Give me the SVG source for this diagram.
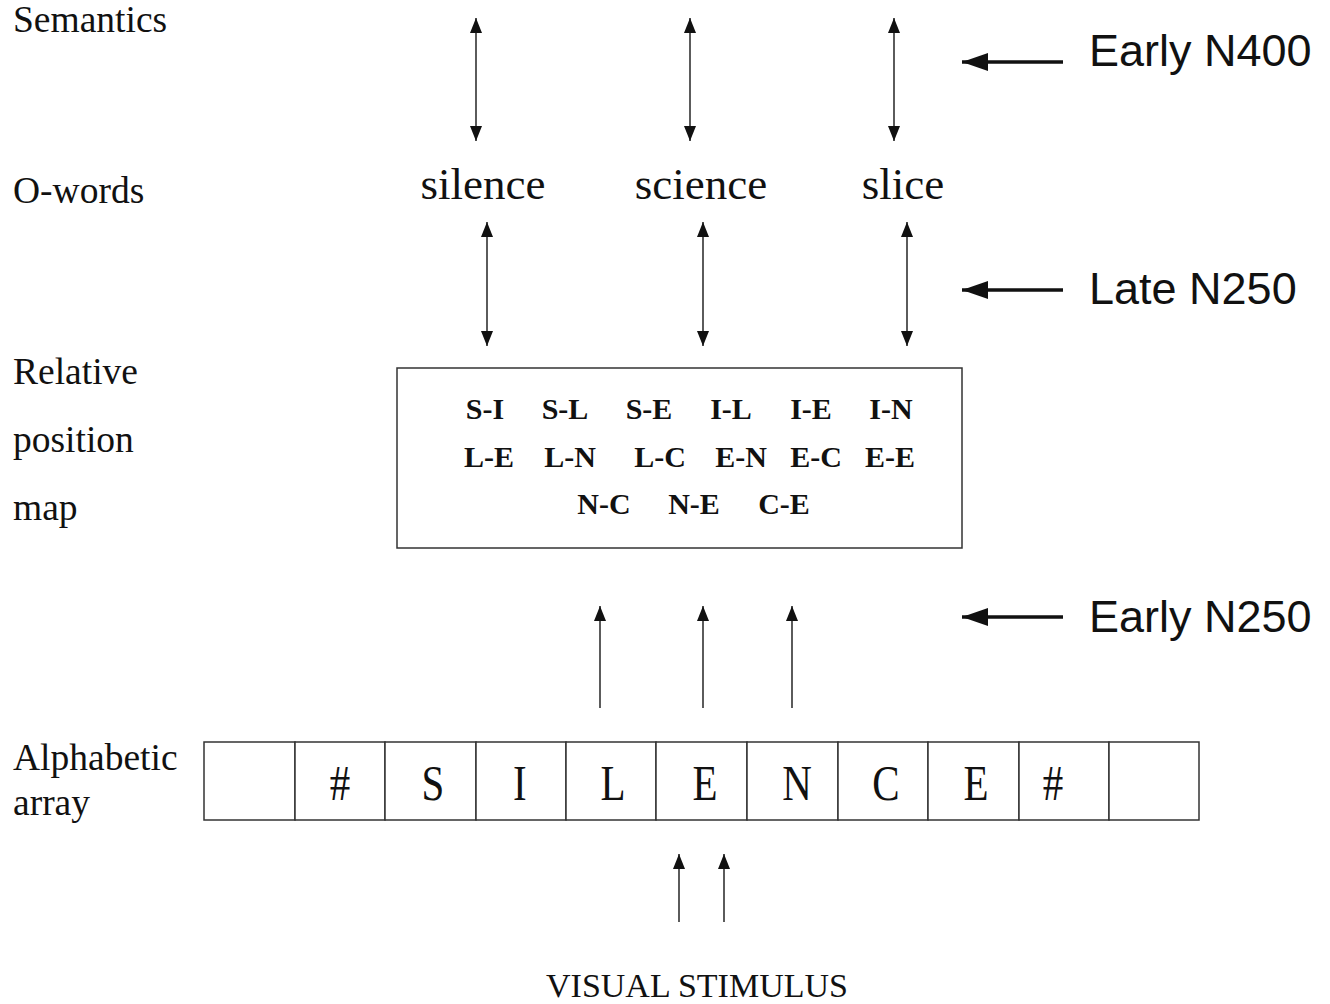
<svg xmlns="http://www.w3.org/2000/svg" width="1330" height="1004" viewBox="0 0 1330 1004">
<defs>
<marker id="ah" viewBox="0 0 10 10" refX="10" refY="5" markerWidth="15" markerHeight="12" markerUnits="userSpaceOnUse" orient="auto-start-reverse" preserveAspectRatio="none">
<path d="M0,0 L10,5 L0,10 Z" fill="#111"/>
</marker>
<marker id="ahb" viewBox="0 0 10 10" refX="10" refY="5" markerWidth="26" markerHeight="18" markerUnits="userSpaceOnUse" orient="auto" preserveAspectRatio="none">
<path d="M0,0 L10,5 L0,10 Z" fill="#111"/>
</marker>
<style>
.lbl{font-family:"Liberation Serif","Times New Roman",serif;font-size:37.5px;fill:#111}
.word{font-family:"Liberation Serif","Times New Roman",serif;font-size:45px;fill:#111;text-anchor:middle}
.pair{font-family:"Liberation Serif","Times New Roman",serif;font-size:30px;font-weight:bold;fill:#111;text-anchor:middle}
.cell{fill:#fff;stroke:#333;stroke-width:1.5}
.let{font-family:"Liberation Serif","Times New Roman",serif;font-size:50px;fill:#111;text-anchor:middle}
.erp{font-family:"Liberation Sans",Arial,sans-serif;font-size:45px;fill:#111}
.conn{stroke:#333;stroke-width:1.6;fill:none}
.big{stroke:#111;stroke-width:3.5;fill:none}
</style>
</defs>
<rect width="1330" height="1004" fill="#fff"/>

<g id="labels">
<text class="lbl" x="13" y="32">Semantics</text>
<text class="lbl" x="13" y="203">O-words</text>
<text class="lbl" x="13" y="384">Relative</text>
<text class="lbl" x="13" y="452">position</text>
<text class="lbl" x="13" y="520">map</text>
<text class="lbl" x="13" y="770">Alphabetic</text>
<text class="lbl" x="13" y="815">array</text>
</g>

<g id="o-words">
<text class="word" x="483" y="199">silence</text>
<text class="word" x="701" y="199">science</text>
<text class="word" x="903" y="199">slice</text>
</g>

<g id="relative-position-map">
<rect x="397" y="368" width="565" height="180" fill="#fff" stroke="#333" stroke-width="1.5"/>
<text class="pair" x="485" y="419">S-I</text>
<text class="pair" x="565" y="419">S-L</text>
<text class="pair" x="649" y="419">S-E</text>
<text class="pair" x="731" y="419">I-L</text>
<text class="pair" x="811" y="419">I-E</text>
<text class="pair" x="891" y="419">I-N</text>
<text class="pair" x="489" y="467">L-E</text>
<text class="pair" x="570" y="467">L-N</text>
<text class="pair" x="660" y="467">L-C</text>
<text class="pair" x="741" y="467">E-N</text>
<text class="pair" x="816" y="467">E-C</text>
<text class="pair" x="890" y="467">E-E</text>
<text class="pair" x="604" y="514">N-C</text>
<text class="pair" x="694" y="514">N-E</text>
<text class="pair" x="784" y="514">C-E</text>
</g>

<g id="alphabetic-array">
<rect class="cell" x="204" y="742" width="91" height="78"/>
<rect class="cell" x="295" y="742" width="90" height="78"/>
<rect class="cell" x="385" y="742" width="91" height="78"/>
<rect class="cell" x="476" y="742" width="90" height="78"/>
<rect class="cell" x="566" y="742" width="90" height="78"/>
<rect class="cell" x="656" y="742" width="91" height="78"/>
<rect class="cell" x="747" y="742" width="91" height="78"/>
<rect class="cell" x="838" y="742" width="90" height="78"/>
<rect class="cell" x="928" y="742" width="91" height="78"/>
<rect class="cell" x="1019" y="742" width="90" height="78"/>
<rect class="cell" x="1109" y="742" width="90" height="78"/>
<g transform="scale(0.82,1)">
<text class="let" x="414.6" y="800">#</text>
<text class="let" x="528" y="800">S</text>
<text class="let" x="634.1" y="800">I</text>
<text class="let" x="747.6" y="800">L</text>
<text class="let" x="859.8" y="800">E</text>
<text class="let" x="972" y="800">N</text>
<text class="let" x="1080.5" y="800">C</text>
<text class="let" x="1190.2" y="800">E</text>
<text class="let" x="1284.1" y="800">#</text>
</g>
</g>

<g id="visual-stimulus">
<text class="lbl" x="697" y="997" text-anchor="middle" style="font-size:34px">VISUAL STIMULUS</text>
</g>

<g id="erp-labels">
<text class="erp" x="1089" y="66">Early N400</text>
<text class="erp" x="1089" y="304">Late N250</text>
<text class="erp" x="1089" y="632">Early N250</text>
</g>

<g id="connectors">
<line class="conn" x1="476" y1="18" x2="476" y2="141" marker-start="url(#ah)" marker-end="url(#ah)"/>
<line class="conn" x1="690" y1="18" x2="690" y2="141" marker-start="url(#ah)" marker-end="url(#ah)"/>
<line class="conn" x1="894" y1="18" x2="894" y2="141" marker-start="url(#ah)" marker-end="url(#ah)"/>
<line class="conn" x1="487" y1="222" x2="487" y2="346" marker-start="url(#ah)" marker-end="url(#ah)"/>
<line class="conn" x1="703" y1="222" x2="703" y2="346" marker-start="url(#ah)" marker-end="url(#ah)"/>
<line class="conn" x1="907" y1="222" x2="907" y2="346" marker-start="url(#ah)" marker-end="url(#ah)"/>
<line class="conn" x1="600" y1="708" x2="600" y2="606" marker-end="url(#ah)"/>
<line class="conn" x1="703" y1="708" x2="703" y2="606" marker-end="url(#ah)"/>
<line class="conn" x1="792" y1="708" x2="792" y2="606" marker-end="url(#ah)"/>
<line class="conn" x1="679" y1="922" x2="679" y2="854" marker-end="url(#ah)"/>
<line class="conn" x1="724" y1="922" x2="724" y2="854" marker-end="url(#ah)"/>
<line class="big" x1="1063" y1="62" x2="962" y2="62" marker-end="url(#ahb)"/>
<line class="big" x1="1063" y1="290" x2="962" y2="290" marker-end="url(#ahb)"/>
<line class="big" x1="1063" y1="617" x2="962" y2="617" marker-end="url(#ahb)"/>
</g>
</svg>
